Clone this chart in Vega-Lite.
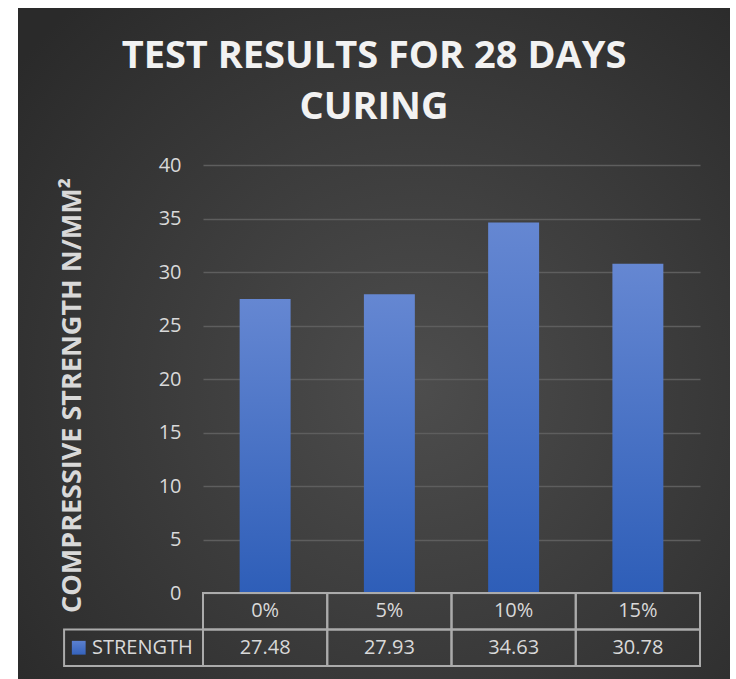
{
  "$schema": "https://vega.github.io/schema/vega-lite/v6.json",
  "autosize": {"type": "none"},
  "padding": {"left": 18, "top": 8, "right": 6, "bottom": 0},
  "width": 712,
  "height": 671,
  "background": "white",
  "view": {
    "stroke": null,
    "fill": {
      "gradient": "radial",
      "x1": 0.56, "y1": 0.56, "x2": 0.56, "y2": 0.56, "r1": 0, "r2": 0.72,
      "stops": [{"offset": 0, "color": "#4d4d4d"}, {"offset": 1, "color": "#2a2a2a"}]
    }
  },
  "config": {"font": "Open Sans"},
  "title": {
    "text": ["TEST RESULTS FOR 28 DAYS", "CURING"],
    "anchor": "middle",
    "frame": "group",
    "orient": "top",
    "baseline": "bottom",
    "offset": -157,
    "lineHeight": 51,
    "font": "Open Sans",
    "fontSize": 38,
    "fontWeight": "bold",
    "color": "#f2f2f2"
  },
  "data": {
    "values": [
      {"pct": "0%", "strength": 27.48},
      {"pct": "5%", "strength": 27.93},
      {"pct": "10%", "strength": 34.63},
      {"pct": "15%", "strength": 30.78}
    ]
  },
  "layer": [
    {
      "layer": [
        {
          "mark": {
            "type": "bar",
            "width": {"band": 0.41},
            "fill": {
              "gradient": "linear", "x1": 0, "y1": 0, "x2": 0, "y2": 1,
              "stops": [{"offset": 0, "color": "#6587d2"}, {"offset": 1, "color": "#2e5eb8"}]
            }
          },
          "encoding": {
            "x": {
              "field": "pct", "type": "nominal", "axis": null,
              "scale": {"domain": ["0%", "5%", "10%", "15%"], "range": [185, 682], "paddingInner": 0, "paddingOuter": 0}
            },
            "y": {
              "field": "strength", "type": "quantitative",
              "scale": {"domain": [0, 40], "range": [585, 157], "nice": false},
              "axis": {
                "title": "COMPRESSIVE STRENGTH N/MM²",
                "values": [0, 5, 10, 15, 20, 25, 30, 35, 40],
                "offset": -185,
                "domain": false,
                "ticks": false,
                "grid": true,
                "gridColor": "#5e5e5e",
                "gridWidth": 1.5,
                "labelPadding": 22,
                "labelFont": "Open Sans",
                "labelFontSize": 20,
                "labelColor": "#d9d9d9",
                "titleFont": "Open Sans",
                "titleFontSize": 27,
                "titleFontWeight": "bold",
                "titleColor": "#d9d9d9",
                "titleAngle": 270,
                "titleAlign": "center",
                "titleBaseline": "middle",
                "titleX": -131,
                "titleY": 387
              }
            }
          }
        }
      ]
    },
    {
      "layer": [
        {
          "mark": {"type": "rect", "fillOpacity": 0, "fill": "#000000", "stroke": "#ababab", "strokeWidth": 2},
          "encoding": {
            "x": {"field": "pct", "type": "nominal", "axis": null, "scale": {"domain": ["0%", "5%", "10%", "15%"], "range": [185, 682], "paddingInner": 0, "paddingOuter": 0}},
            "y": {"datum": "header", "type": "nominal", "axis": null, "scale": {"domain": ["header", "STRENGTH"], "range": [585, 658], "paddingInner": 0, "paddingOuter": 0}}
          }
        },
        {
          "mark": {"type": "rect", "fillOpacity": 0, "fill": "#000000", "stroke": "#ababab", "strokeWidth": 2},
          "encoding": {
            "x": {"field": "pct", "type": "nominal", "axis": null, "scale": {"domain": ["0%", "5%", "10%", "15%"], "range": [185, 682], "paddingInner": 0, "paddingOuter": 0}},
            "y": {"datum": "STRENGTH", "type": "nominal", "axis": null, "scale": {"domain": ["header", "STRENGTH"], "range": [585, 658], "paddingInner": 0, "paddingOuter": 0}}
          }
        },
        {
          "data": {"values": [{"series": "STRENGTH"}]},
          "mark": {"type": "rect", "fillOpacity": 0, "fill": "#000000", "stroke": "#ababab", "strokeWidth": 2},
          "encoding": {
            "x": {"datum": "0%", "type": "nominal", "bandPosition": -1.118, "axis": null, "scale": {"domain": ["0%", "5%", "10%", "15%"], "range": [185, 682], "paddingInner": 0, "paddingOuter": 0}},
            "x2": {"datum": "0%", "bandPosition": 0},
            "y": {"datum": "STRENGTH", "type": "nominal", "axis": null, "scale": {"domain": ["header", "STRENGTH"], "range": [585, 658], "paddingInner": 0, "paddingOuter": 0}}
          }
        },
        {
          "mark": {"type": "text", "font": "Open Sans", "fontSize": 20, "color": "#d9d9d9", "baseline": "middle", "align": "center"},
          "encoding": {
            "x": {"field": "pct", "type": "nominal", "axis": null, "scale": {"domain": ["0%", "5%", "10%", "15%"], "range": [185, 682], "paddingInner": 0, "paddingOuter": 0}},
            "y": {"datum": "header", "type": "nominal", "axis": null, "scale": {"domain": ["header", "STRENGTH"], "range": [585, 658], "paddingInner": 0, "paddingOuter": 0}},
            "text": {"field": "pct", "type": "nominal"}
          }
        },
        {
          "mark": {"type": "text", "font": "Open Sans", "fontSize": 20, "color": "#d9d9d9", "baseline": "middle", "align": "center"},
          "encoding": {
            "x": {"field": "pct", "type": "nominal", "axis": null, "scale": {"domain": ["0%", "5%", "10%", "15%"], "range": [185, 682], "paddingInner": 0, "paddingOuter": 0}},
            "y": {"datum": "STRENGTH", "type": "nominal", "axis": null, "scale": {"domain": ["header", "STRENGTH"], "range": [585, 658], "paddingInner": 0, "paddingOuter": 0}},
            "text": {"field": "strength", "type": "quantitative", "format": ".2f"}
          }
        },
        {
          "data": {"values": [{"series": "STRENGTH"}]},
          "mark": {"type": "text", "font": "Open Sans", "fontSize": 20, "color": "#d9d9d9", "baseline": "middle", "align": "left"},
          "encoding": {
            "x": {"datum": "0%", "type": "nominal", "bandPosition": -0.893, "axis": null, "scale": {"domain": ["0%", "5%", "10%", "15%"], "range": [185, 682], "paddingInner": 0, "paddingOuter": 0}},
            "y": {"datum": "STRENGTH", "type": "nominal", "axis": null, "scale": {"domain": ["header", "STRENGTH"], "range": [585, 658], "paddingInner": 0, "paddingOuter": 0}},
            "text": {"field": "series", "type": "nominal"}
          }
        },
        {
          "data": {"values": [{"series": "STRENGTH"}]},
          "mark": {
            "type": "point", "shape": "square", "size": 190, "filled": true, "opacity": 1,
            "fill": {
              "gradient": "linear", "x1": 0, "y1": 0, "x2": 0, "y2": 1,
              "stops": [{"offset": 0, "color": "#5b80cf"}, {"offset": 1, "color": "#3563bd"}]
            }
          },
          "encoding": {
            "x": {"datum": "0%", "type": "nominal", "bandPosition": -1.0, "axis": null, "scale": {"domain": ["0%", "5%", "10%", "15%"], "range": [185, 682], "paddingInner": 0, "paddingOuter": 0}},
            "y": {"datum": "STRENGTH", "type": "nominal", "axis": null, "scale": {"domain": ["header", "STRENGTH"], "range": [585, 658], "paddingInner": 0, "paddingOuter": 0}}
          }
        }
      ]
    }
  ],
  "resolve": {"scale": {"y": "independent"}, "axis": {"y": "independent"}}
}
